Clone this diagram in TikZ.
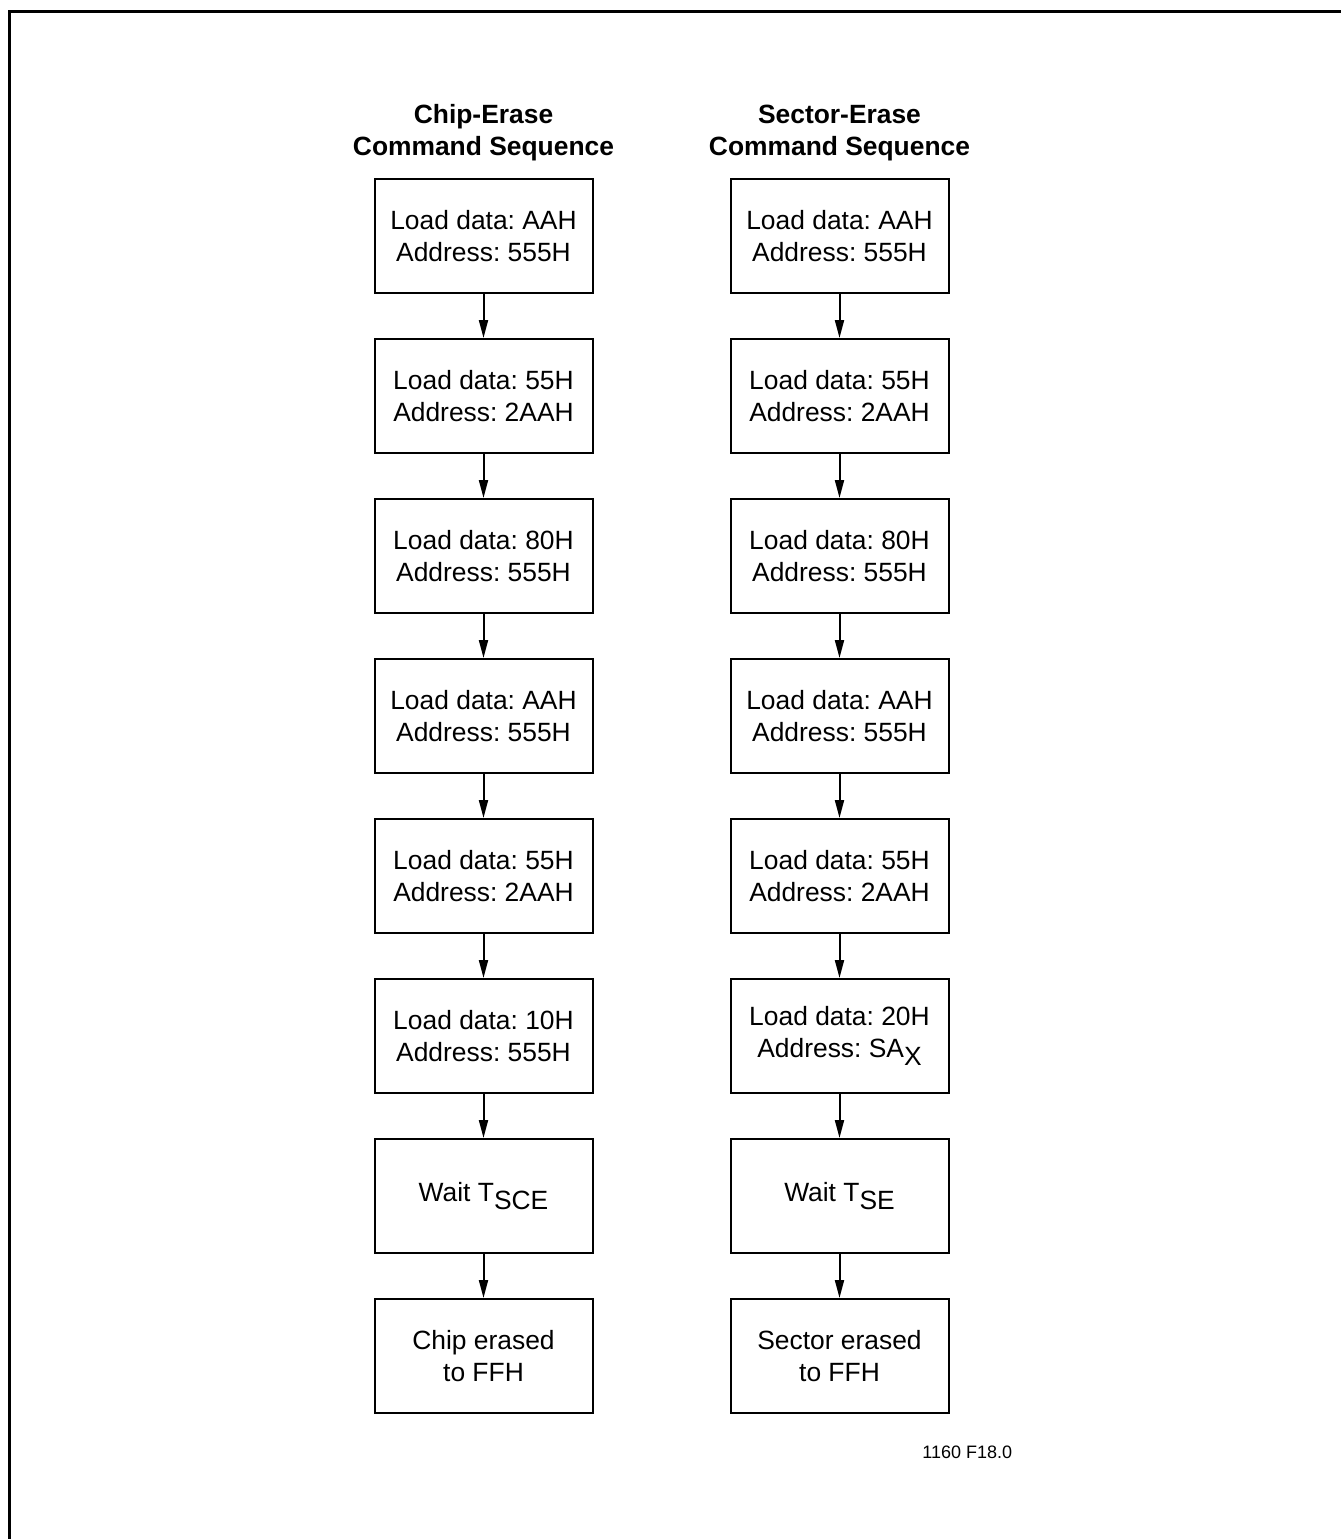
\documentclass[tikz,border=0pt]{standalone}
\usepackage{fontspec}
\setmainfont{Liberation Sans}
\usetikzlibrary{arrows.meta,positioning}
\newcommand{\lowsub}[1]{\raisebox{-0.3em}{#1}}
\frenchspacing

\begin{document}
\begin{tikzpicture}[node distance=22pt and 68pt,>={Triangle[length=9pt,width=4.5pt]},
 cmdbox/.style={draw,line width=1pt,minimum width=109pt,minimum height=57pt,
              align=center,inner sep=2pt,font=\fontsize{13.2}{16}\selectfont},
 heading/.style={align=center,font=\fontsize{13.2}{16}\selectfont\bfseries},
 flow/.style={->,line width=1pt}]
\useasboundingbox (0,0) rectangle (670.5pt,-769.5pt);
\draw[line width=1.5pt] (4.5pt,-769.5pt) |- (670.5pt,-5.5pt);
% chip erase
\node[cmdbox] (c1) at (241.75pt,-118pt) {Load data: AAH\\Address: 555H};
\node[cmdbox,below=of c1] (c2) {Load data: 55H\\Address: 2AAH};
\node[cmdbox,below=of c2] (c3) {Load data: 80H\\Address: 555H};
\node[cmdbox,below=of c3] (c4) {Load data: AAH\\Address: 555H};
\node[cmdbox,below=of c4] (c5) {Load data: 55H\\Address: 2AAH};
\node[cmdbox,below=of c5] (c6) {Load data: 10H\\Address: 555H};
\node[cmdbox,below=of c6] (c7) {Wait T\lowsub{SCE}};
\node[cmdbox,below=of c7] (c8) {Chip erased\\to FFH};
\node[heading,above=5pt of c1] (chiphead) {Chip-Erase\\Command Sequence};
% sector erase
\node[cmdbox,right=of c1] (s1) {Load data: AAH\\Address: 555H};
\node[cmdbox,below=of s1] (s2) {Load data: 55H\\Address: 2AAH};
\node[cmdbox,below=of s2] (s3) {Load data: 80H\\Address: 555H};
\node[cmdbox,below=of s3] (s4) {Load data: AAH\\Address: 555H};
\node[cmdbox,below=of s4] (s5) {Load data: 55H\\Address: 2AAH};
\node[cmdbox,below=of s5] (s6) {Load data: 20H\\Address: SA\lowsub{X}};
\node[cmdbox,below=of s6] (s7) {Wait T\lowsub{SE}};
\node[cmdbox,below=of s7] (s8) {Sector erased\\to FFH};
\node[heading,above=5pt of s1] (sectorhead) {Sector-Erase\\Command Sequence};
\draw[flow] (c1)--(c2);
\draw[flow] (c2)--(c3);
\draw[flow] (c3)--(c4);
\draw[flow] (c4)--(c5);
\draw[flow] (c5)--(c6);
\draw[flow] (c6)--(c7);
\draw[flow] (c7)--(c8);
\draw[flow] (s1)--(s2);
\draw[flow] (s2)--(s3);
\draw[flow] (s3)--(s4);
\draw[flow] (s4)--(s5);
\draw[flow] (s5)--(s6);
\draw[flow] (s6)--(s7);
\draw[flow] (s7)--(s8);
\node[anchor=base east,inner sep=0pt,font=\fontsize{9}{10}\selectfont] (figno)
  at ([xshift=31.5pt,yshift=-22pt]s8.south east) {1160 F18.0};
\end{tikzpicture}
\end{document}
